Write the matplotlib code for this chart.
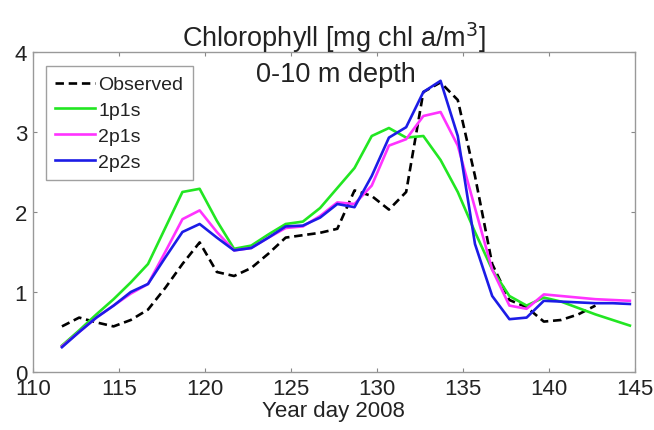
import matplotlib
matplotlib.use("Agg")
import matplotlib.pyplot as plt
import numpy as np

plt.rcParams['font.family'] = ['Liberation Sans', 'DejaVu Sans']

# Year day sample points
days = [111.7 + k for k in range(34)]
days_obs = days[:32]

observed = [0.57, 0.68, 0.62, 0.57, 0.65, 0.78, 1.05, 1.35, 1.62, 1.25,
            1.20, 1.30, 1.48, 1.68, 1.71, 1.74, 1.79, 2.27, 2.20, 2.03,
            2.25, 3.50, 3.62, 3.40, 2.45, 1.35, 0.90, 0.81, 0.63, 0.65,
            0.72, 0.83]
run_1p1s = [0.33, 0.52, 0.72, 0.91, 1.12, 1.35, 1.80, 2.25, 2.29, 1.89,
            1.54, 1.58, 1.72, 1.85, 1.88, 2.05, 2.30, 2.55, 2.95, 3.05,
            2.93, 2.95, 2.65, 2.25, 1.75, 1.28, 0.95, 0.83, 0.93, 0.88,
            0.80, 0.72, 0.65, 0.58]
run_2p1s = [0.32, 0.50, 0.68, 0.83, 0.98, 1.10, 1.50, 1.91, 2.02, 1.75,
            1.52, 1.55, 1.68, 1.80, 1.82, 1.95, 2.12, 2.10, 2.33, 2.83,
            2.91, 3.20, 3.25, 2.83, 2.05, 1.28, 0.83, 0.79, 0.97, 0.95,
            0.93, 0.91, 0.90, 0.89]
run_2p2s = [0.31, 0.50, 0.68, 0.83, 1.00, 1.10, 1.43, 1.75, 1.85, 1.68,
            1.52, 1.55, 1.68, 1.82, 1.83, 1.93, 2.10, 2.06, 2.45, 2.93,
            3.06, 3.50, 3.64, 2.95, 1.60, 0.95, 0.66, 0.68, 0.89, 0.88,
            0.87, 0.86, 0.86, 0.85]

xticks = [110, 115, 120, 125, 130, 135, 140, 145]
yticks = [0, 1, 2, 3, 4]

fig = plt.figure(figsize=(6.54, 4.31), dpi=100)
ax = fig.add_axes([0.050, 0.1346, 0.921, 0.7424])

lw = 1.9
ax.plot(days_obs, observed, color='black', linestyle=(0, (3.2, 1.8)), lw=lw, label='Observed')
ax.plot(days, run_1p1s, color='#22e622', lw=lw, label='1p1s')
ax.plot(days, run_2p1s, color='#ff33ff', lw=lw, label='2p1s')
ax.plot(days, run_2p2s, color='#1c1ce6', lw=lw, label='2p2s')

ax.set_xlim(110, 145)
ax.set_ylim(0, 4)
ax.set_xticks(xticks)
ax.set_yticks(yticks)
ax.tick_params(direction='in', length=3, color='#888888', top=True, right=True,
               labelsize=16, labelcolor='#222222', pad=4)
for s in ax.spines.values():
    s.set_color('#999999')
    s.set_linewidth(1.0)

ax.set_xlabel('Year day 2008', fontsize=16, color='#222222', labelpad=1)
ax.set_title('Chlorophyll [mg chl a/m$^3$]', fontsize=19.5, color='#222222', pad=4.5)
ax.text(127.6, 3.64, '0-10 m depth', fontsize=19.5, color='#222222', ha='center', va='baseline')

leg = ax.legend(loc='upper left', bbox_to_anchor=(0.0216, 0.956), fontsize=14,
                handlelength=2.05, handletextpad=0.15, labelspacing=0.42,
                borderpad=0.5, frameon=True, fancybox=False, borderaxespad=0)
leg.get_frame().set_edgecolor('#888888')
leg.get_frame().set_linewidth(1.0)
for t in leg.get_texts():
    t.set_color('#222222')

fig.savefig('out.png', dpi=100)
